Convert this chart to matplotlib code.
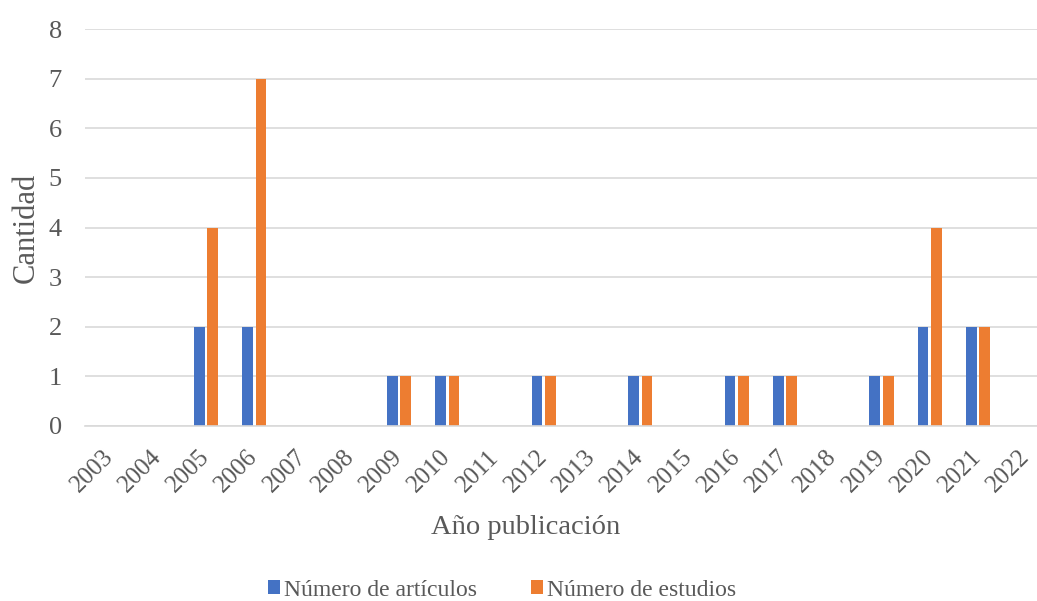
import matplotlib
matplotlib.use("Agg")
import matplotlib.pyplot as plt
import numpy as np
from matplotlib.patches import Patch

years = ["2003", "2004", "2005", "2006", "2007", "2008", "2009", "2010", "2011", "2012",
         "2013", "2014", "2015", "2016", "2017", "2018", "2019", "2020", "2021", "2022"]
articulos = [0, 0, 2, 2, 0, 0, 1, 1, 0, 1, 0, 1, 0, 1, 1, 0, 1, 2, 2, 0]
estudios = [0, 0, 4, 7, 0, 0, 1, 1, 0, 1, 0, 1, 0, 1, 1, 0, 1, 4, 2, 0]
series_names = ["Número de artículos", "Número de estudios"]
yticks = [0, 1, 2, 3, 4, 5, 6, 7, 8]

BLUE = "#4472C4"
ORANGE = "#ED7D31"
GRID = "#D9D9D9"
TXT = "#595959"

plt.rcParams['font.family'] = ['Liberation Serif', 'DejaVu Serif']

W, H = 1037, 601
fig = plt.figure(figsize=(W / 100, H / 100), dpi=100)
left = 85.4 / W
bottom = (H - 426) / H
height = (426 - 29) / H
width = 20 * 48.25 / W
ax = fig.add_axes([left, bottom, width, height])

x = np.arange(len(years))
bw = 0.22
ax.bar(x - 0.14, articulos, width=bw, color=BLUE, zorder=3)
ax.bar(x + 0.14, estudios, width=bw, color=ORANGE, zorder=3)

ax.set_xlim(-0.5, len(years) - 0.5)
ax.set_ylim(0, 8)
ax.set_yticks(yticks)
ax.set_yticklabels([str(v) for v in yticks], fontsize=19, color=TXT)
ax.set_xticks(x)
ax.set_xticklabels(years, fontsize=18, color=TXT, rotation=45, ha='right',
                   va='center', rotation_mode='anchor')
ax.tick_params(axis='both', length=0)
ax.tick_params(axis='y', pad=17)
ax.tick_params(axis='x', pad=20)

ax.grid(axis='y', color=GRID, linewidth=1.2, zorder=0)
for s in ['top', 'right', 'left']:
    ax.spines[s].set_visible(False)
ax.spines['bottom'].set_color(GRID)
ax.spines['bottom'].set_linewidth(1.2)
ax.spines['bottom'].set_zorder(4)

fig.text(26 / W, 1 - 228 / H, "Cantidad", rotation=90, ha='center', va='center',
         fontsize=22, color=TXT)
fig.text(526 / W, 1 - 528 / H, "Año publicación", ha='center', va='center',
         fontsize=20.5, color=TXT)

handles = [Patch(facecolor=BLUE), Patch(facecolor=ORANGE)]
fig.legend(handles, series_names, loc='center', bbox_to_anchor=(502 / W, 1 - 590 / H),
           ncol=2, frameon=False, fontsize=17, handlelength=0.52, handleheight=0.52,
           handletextpad=0.15, columnspacing=2.3, labelcolor=TXT)

fig.savefig("out.png", dpi=100)
